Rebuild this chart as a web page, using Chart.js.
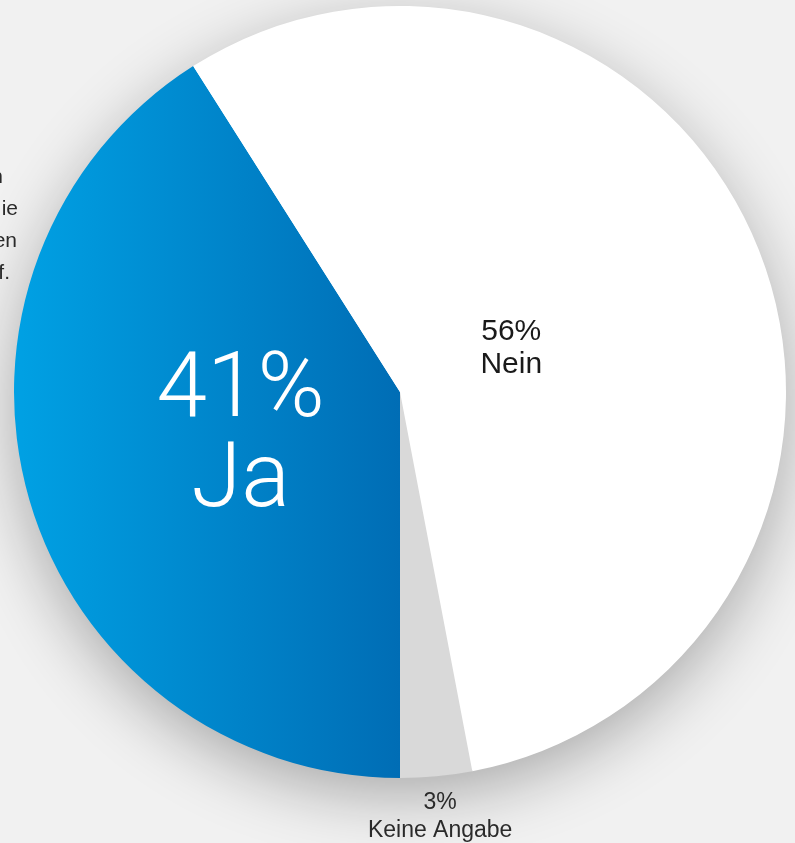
<!DOCTYPE html>
<html>
<head>
<meta charset="utf-8">
<script src="https://cdn.jsdelivr.net/npm/chart.js@4"></script>
<style>
    html, body { margin:0; padding:0; background:#f1f1f1; }
    #wrap { width:795px; height:843px; position:relative; }
</style>
</head>
<body>
<div id="wrap"><canvas id="pieChart"></canvas></div>
<script>
const categories = ["Ja", "Nein", "Keine Angabe"];
const shares = [41, 56, 3];
const shareLabels = ["41%", "56%", "3%"];
const sliceColors = [null, "#ffffff", "#d9d9d9"];   // null = blue gradient

// cut off paragraph at the left edge of the page
const sideText = ["n", "ie", "en", "f."];


// background + circle shadow
const backdrop = {
    id:"backdrop",
    beforeDraw(chart){
        const ctx = chart.ctx;
        ctx.save();
        ctx.fillStyle = "#f1f1f1";
        ctx.fillRect(0, 0, chart.width, chart.height);

        const arc = chart.getDatasetMeta(0).data[0];
        if(arc){
            ctx.beginPath();
            ctx.arc(arc.x, arc.y, arc.outerRadius - 1, 0, Math.PI * 2);
            ctx.shadowColor = "rgba(0,0,0,0.3)";
            ctx.shadowBlur = 65;
            ctx.shadowOffsetY = 18;
            ctx.fillStyle = "#ffffff";
            ctx.fill();
        }

        ctx.shadowColor = "transparent";
        ctx.fillStyle = "#2a2a2a";
        ctx.font = "21px 'Liberation Sans', Arial, sans-serif";
        ctx.textAlign = "right";
        ctx.textBaseline = "alphabetic";
        const xs = [3, 18, 17, 10];
        sideText.forEach((t, i) => ctx.fillText(t, xs[i], 183 + i * 32));
        ctx.restore();
    }
};


// slice labels, placed along each slice's middle angle
const sliceLabels = {
    id:"sliceLabels",
    afterDatasetsDraw(chart){
        const ctx = chart.ctx;
        const meta = chart.getDatasetMeta(0);
        const styles = [
            { r:0.43, gap:90, color:"#ffffff", font:"300 91px Roboto, 'Liberation Sans', sans-serif" },
            { r:0.31, gap:33, color:"#1a1a1a", font:"30px 'Liberation Sans', Arial, sans-serif" },
            { r:1.105, gap:28, color:"#2a2a2a", font:"23px 'Liberation Sans', Arial, sans-serif" }
        ];
        ctx.save();
        ctx.textAlign = "center";
        ctx.textBaseline = "middle";
        meta.data.forEach((arc, i) => {
            const s = styles[i];
            const mid = (arc.startAngle + arc.endAngle) / 2;
            const x = arc.x + Math.cos(mid) * arc.outerRadius * s.r;
            const y = arc.y + Math.sin(mid) * arc.outerRadius * s.r;
            ctx.fillStyle = s.color;
            ctx.font = s.font;
            ctx.fillText(shareLabels[i], x, y - s.gap / 2);
            ctx.fillText(categories[i], x, y + s.gap / 2);
        });
        ctx.restore();
    }
};


function sliceFill(context){
    const c = sliceColors[context.dataIndex];
    if(c) return c;
    const chart = context.chart;
    const area = chart.chartArea;
    if(!area) return "#0088d0";
    const cx = (area.left + area.right) / 2;
    const g = chart.ctx.createLinearGradient(area.left, 0, cx, 0);
    g.addColorStop(0, "#00a1e4");
    g.addColorStop(1, "#006db5");
    return g;
}


// PIE CHART
new Chart(document.getElementById("pieChart"),{

    type:"pie",

    data:{
        labels:categories,

        datasets:[{
            data:shares,
            backgroundColor:sliceFill,
            borderWidth:0
        }]
    },

    options:{
        responsive:true,
        maintainAspectRatio:false,
        animation:false,
        rotation:180,
        layout:{
            padding:{ left:14, right:9, top:6, bottom:65 }
        },
        plugins:{
            legend:{ display:false },
            tooltip:{ enabled:false }
        }
    },

    plugins:[backdrop, sliceLabels]
});
</script>
</body>
</html>
